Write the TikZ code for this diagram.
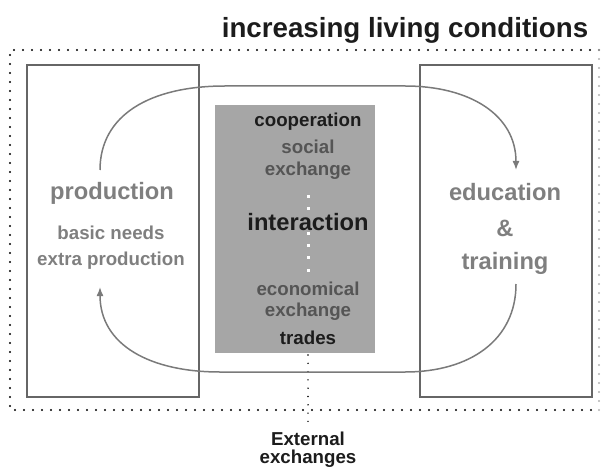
\documentclass[tikz,border=0pt]{standalone}
\usepackage{fontspec}
\setmainfont{Liberation Sans}
\usetikzlibrary{arrows.meta}
\definecolor{frameline}{HTML}{666666}
\definecolor{loopline}{HTML}{7a7a7a}
\definecolor{softtext}{HTML}{7f7f7f}
\definecolor{midtext}{HTML}{555555}
\definecolor{darktext}{HTML}{1c1c1c}
\definecolor{boxfill}{HTML}{a6a6a6}
\begin{document}
\begin{tikzpicture}[x=1pt,y=-1pt,
  every node/.style={font=\bfseries, inner sep=0pt, align=center},
  sidebox/.style={draw=frameline, line width=1.8pt},
  outerdots/.style={line width=2.4pt, line cap=round, dash pattern=on 0pt off 9pt},
  loopline/.style={draw=loopline, line width=1.5pt},
  looparrow/.style={loopline, -{Latex[length=9pt,width=7pt]}},
  fsA/.style={font=\bfseries\fontsize{27.7}{31}\selectfont},
  fsB/.style={font=\bfseries\fontsize{23.7}{27}\selectfont},
  fsC/.style={font=\bfseries\fontsize{18.7}{22}\selectfont}]
\useasboundingbox (0,0) rectangle (601,470);

% outer dotted frame
\draw[outerdots, black] (599,50) -- (10,50) -- (10,410) -- (599,410);
\draw[outerdots, black!30] (599,50) -- (599,410);

% heading
\node[fsA, text=darktext] (head) at (405,30) {increasing living conditions};

% side boxes
\draw[sidebox] (27,65) rectangle (199,397);
\draw[sidebox] (420,65) rectangle (592,397);

% central box
\node[fill=boxfill, minimum width=160pt, minimum height=248pt] (mid) at (295,229) {};

% connector from centre box down
\coordinate (ext) at (308,424);
\draw[line width=1.6pt, line cap=round, dash pattern=on 0pt off 8.3pt, black] (308,355) -- (ext);

% white dots inside centre box
\foreach \yy in {196,208,233,245,257,270}
  \fill[white] (306.5,\yy-1.5) rectangle (309.5,\yy+1.5);

% texts in side boxes
\node[fsB, text=softtext] (prod) at (112,193) {production};
\node[fsC, text=softtext] (basic) at (111,233) {basic needs};
\node[fsC, text=softtext] (extra) at (111,261) {extra production};

\node[fsB, text=softtext] (edu) at (505,192) {education};
\node[fsB, text=softtext] (amp) at (505,228) {\&};
\node[fsB, text=softtext] (train) at (505,263) {training};

% texts in centre box
\node[fsC, text=darktext] (coop) at (308,122) {cooperation};
\node[fsC, text=midtext] (social) at (308,147) {social};
\node[fsC, text=midtext] (sexch) at (308,171) {exchange};
\node[fsB, text=darktext] (inter) at (308,222) {interaction};
\node[fsC, text=midtext] (econ) at (308,289) {economical};
\node[fsC, text=midtext] (eexch) at (308,312) {exchange};
\node[fsC, text=darktext] (trades) at (308,338) {trades};

% external
\node[fsC, text=darktext] (external) at (308,439) {External};
\node[fsC, text=darktext] (exchanges) at (308,459) {exchanges};

% loop
\coordinate (pTop) at (100,170);
\coordinate (eTop) at (516,170);
\coordinate (eBot) at (516,284);
\coordinate (pBot) at (100,287);
\draw[looparrow] (pTop) .. controls (100,115) and (150,86) .. (225,86)
  -- (405,86) .. controls (470,86) and (516,115) .. (eTop);
\draw[looparrow] (eBot) .. controls (516,340) and (470,372) .. (405,372)
  -- (220,372) .. controls (150,372) and (100,345) .. (pBot);
\end{tikzpicture}
\end{document}
